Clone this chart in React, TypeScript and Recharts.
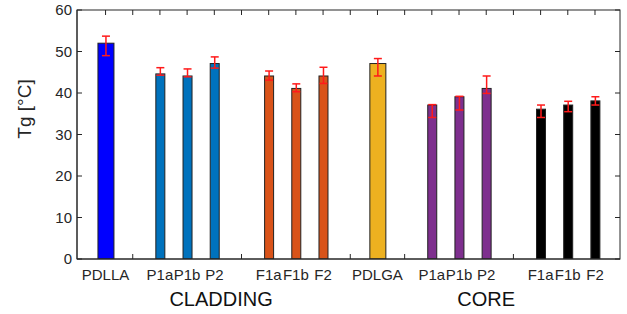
import React from 'react';
import {
    ComposedChart,
    Bar,
    Line,
    Cell,
    ErrorBar,
    XAxis,
    YAxis,
} from 'recharts';

// sample labels, where they sit along the x axis (slot index), Tg and error limits
const categories = ['PDLLA', 'P1a', 'P1b', 'P2', 'F1a', 'F1b', 'F2', 'PDLGA', 'P1a', 'P1b', 'P2', 'F1a', 'F1b', 'F2'];
const slots = [0, 2, 3, 4, 6, 7, 8, 10, 12, 13, 14, 16, 17, 18];
const tgValues = [52, 44.6, 44.1, 47.1, 44.1, 41.1, 44.1, 47.1, 37.1, 39.1, 41.1, 36.1, 37.1, 38.1];
const errLow = [3, 0.3, 0.2, 1.1, 1, 0.8, 1.8, 3, 3, 3.2, 1.2, 2, 1.6, 1];
const errHigh = [1.7, 1.5, 1.7, 1.6, 1.2, 1.1, 2.1, 1.2, 0.1, 0.1, 3, 1, 0.9, 1];
const barColors = ['#0000ff', '#0072bd', '#0072bd', '#0072bd', '#d95319', '#d95319', '#d95319',
    '#edb120', '#7e2f8e', '#7e2f8e', '#7e2f8e', '#000000', '#000000', '#000000'];

const groups = ['CLADDING', 'CORE'];
const groupCenters = [4.25, 14];

const yTicks = [0, 10, 20, 30, 40, 50, 60];
const allSlots = Array.from({ length: 19 }, (_, i) => i);

const data = categories.map((name, i) => ({
    name,
    slot: slots[i],
    tg: tgValues[i],
    err: [errLow[i], errHigh[i]],
}));

const FONT = '"Liberation Sans", Arial, sans-serif';
const INK = '#262626';
const X_DOMAIN = [-1.05, 18.92];
const Y_DOMAIN = [0, 60];

// plot box (matches chart margins + axis sizes below)
const W = 627;
const H = 314;
const PLOT = { left: 77, top: 10, right: 620, bottom: 259 };
const TICK = 5;

const BarShape = (props: any) => {
    const { x, y, width, height, fill, payload } = props;
    const w = payload.name.startsWith('PDL') ? width : width * 9 / 16;
    return (
        <rect
            x={x + (width - w) / 2}
            y={y}
            width={w}
            height={height}
            fill={fill}
            stroke="#222"
            strokeWidth={1}
        />
    );
};

const slotLabel = (v: number) => {
    const i = slots.indexOf(v);
    return i >= 0 ? categories[i] : '';
};

const groupLabel = (v: number) => {
    const i = groupCenters.indexOf(v);
    return i >= 0 ? groups[i] : '';
};

const YLabel = () => {
    const cx = 24;
    const cy = 109;
    return (
        <text
            x={cx}
            y={cy}
            transform={`rotate(-90, ${cx}, ${cy})`}
            textAnchor="middle"
            dominantBaseline="central"
            fontSize={19}
            fontFamily={FONT}
            fill={INK}
        >
            Tg [°C]
        </text>
    );
};

// box around the axes with inward ticks on all four sides (matlab style)
const Frame = () => {
    const sx = (v: number) =>
        PLOT.left + ((v - X_DOMAIN[0]) / (X_DOMAIN[1] - X_DOMAIN[0])) * (PLOT.right - PLOT.left);
    const sy = (v: number) =>
        PLOT.bottom - ((v - Y_DOMAIN[0]) / (Y_DOMAIN[1] - Y_DOMAIN[0])) * (PLOT.bottom - PLOT.top);
    const gapSlots = allSlots.filter((s) => !slots.includes(s));
    return (
        <svg
            width={W}
            height={H}
            style={{ position: 'absolute', left: 0, top: 0, pointerEvents: 'none' }}
        >
            <rect
                x={PLOT.left}
                y={PLOT.top}
                width={PLOT.right - PLOT.left}
                height={PLOT.bottom - PLOT.top}
                fill="none"
                stroke={INK}
                strokeWidth={1}
            />
            {allSlots.map((s) => (
                <line key={`t${s}`} x1={sx(s)} x2={sx(s)} y1={PLOT.top} y2={PLOT.top + TICK} stroke={INK} />
            ))}
            {gapSlots.map((s) => (
                <line key={`b${s}`} x1={sx(s)} x2={sx(s)} y1={PLOT.bottom} y2={PLOT.bottom - TICK} stroke={INK} />
            ))}
            {yTicks.map((v) => (
                <g key={`y${v}`}>
                    <line x1={PLOT.left} x2={PLOT.left + TICK} y1={sy(v)} y2={sy(v)} stroke={INK} />
                    <line x1={PLOT.right} x2={PLOT.right - TICK} y1={sy(v)} y2={sy(v)} stroke={INK} />
                </g>
            ))}
        </svg>
    );
};

const App: React.FC = () => {
    return (
        <div style={{ position: 'absolute', left: 0, top: 0, width: W, height: H, background: '#fff' }}>
            <ComposedChart
                width={W}
                height={H}
                data={data}
                margin={{ top: PLOT.top, right: W - PLOT.right, bottom: 0, left: 0 }}
            >
                <XAxis
                    xAxisId="a_cat"
                    dataKey="slot"
                    type="number"
                    domain={X_DOMAIN}
                    allowDataOverflow
                    ticks={allSlots}
                    interval={0}
                    tickFormatter={slotLabel}
                    tickLine={false}
                    tickSize={0}
                    tickMargin={10}
                    height={25}
                    stroke={INK}
                    tick={{ fontSize: 15, fontFamily: FONT, fill: INK }}
                />
                <XAxis
                    xAxisId="b_group"
                    dataKey="slot"
                    type="number"
                    domain={X_DOMAIN}
                    allowDataOverflow
                    ticks={groupCenters}
                    interval={0}
                    tickFormatter={groupLabel}
                    axisLine={false}
                    tickLine={false}
                    height={30}
                    tick={{ fontSize: 20, fontFamily: FONT, fill: '#111' }}
                />
                <YAxis
                    yAxisId="left"
                    type="number"
                    domain={Y_DOMAIN}
                    allowDataOverflow
                    ticks={yTicks}
                    interval={0}
                    tickLine={false}
                    tickSize={0}
                    tickMargin={5}
                    width={PLOT.left}
                    stroke={INK}
                    tick={{ fontSize: 15, fontFamily: FONT, fill: INK }}
                    label={<YLabel />}
                />
                <Line
                    xAxisId="b_group"
                    yAxisId="left"
                    dataKey="tg"
                    stroke="none"
                    dot={false}
                    activeDot={false}
                    legendType="none"
                    isAnimationActive={false}
                />
                <Bar
                    xAxisId="a_cat"
                    yAxisId="left"
                    dataKey="tg"
                    barSize={16}
                    shape={BarShape}
                    isAnimationActive={false}
                >
                    {data.map((d, i) => (
                        <Cell key={i} fill={barColors[i]} />
                    ))}
                    <ErrorBar
                        dataKey="err"
                        direction="y"
                        width={4}
                        stroke="#ff1a1a"
                        strokeWidth={1.5}
                        isAnimationActive={false}
                    />
                </Bar>
            </ComposedChart>
            <Frame />
        </div>
    );
};

export default App;
